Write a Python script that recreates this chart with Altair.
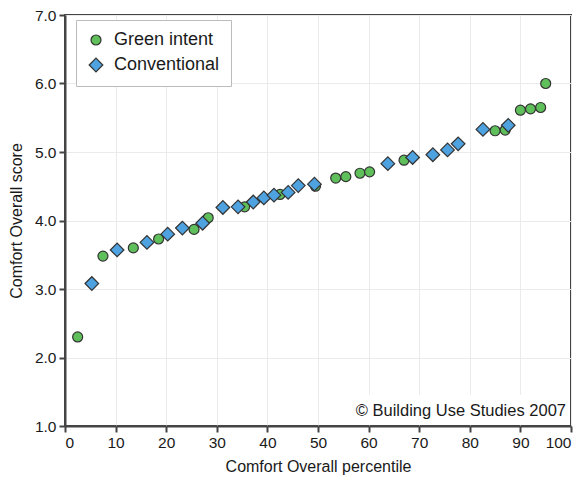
import altair as alt
import pandas as pd

green_x = [2.5, 7.5, 13.5, 18.5, 25.5, 28.3, 35.5, 42.5, 49.5, 53.5, 55.5, 58.3, 60.2, 67.0, 85.0, 87.0, 90.0, 92.0, 94.0, 95.0]
green_y = [2.30, 3.48, 3.60, 3.73, 3.87, 4.04, 4.20, 4.38, 4.50, 4.62, 4.64, 4.69, 4.71, 4.88, 5.31, 5.32, 5.61, 5.63, 5.65, 6.00]

conv_x = [5.3, 10.3, 16.2, 20.3, 23.2, 27.2, 31.2, 34.2, 37.2, 39.3, 41.3, 44.1, 46.1, 49.3, 63.8, 68.7, 72.7, 75.6, 77.7, 82.6, 87.6]
conv_y = [3.08, 3.57, 3.68, 3.80, 3.89, 3.96, 4.19, 4.20, 4.27, 4.33, 4.37, 4.41, 4.51, 4.53, 4.83, 4.92, 4.96, 5.03, 5.12, 5.33, 5.39]

groups = ["Green intent", "Conventional"]
x_ticks = list(range(0, 101, 10))
y_ticks = [1.0, 2.0, 3.0, 4.0, 5.0, 6.0, 7.0]
credit = "© Building Use Studies 2007"

df = pd.concat([
    pd.DataFrame({"x": green_x, "y": green_y, "group": groups[0], "order": 0}),
    pd.DataFrame({"x": conv_x, "y": conv_y, "group": groups[1], "order": 1}),
])

FONT = "Liberation Sans"
TXT = "#1a1a1a"

pts = alt.Chart(df).mark_point(filled=True, stroke="#333333", strokeWidth=1.2, opacity=1).encode(
    x=alt.X("x:Q", scale=alt.Scale(domain=[0, 100], nice=False),
            axis=alt.Axis(values=x_ticks, title="Comfort Overall percentile", format="d")),
    y=alt.Y("y:Q", scale=alt.Scale(domain=[1, 7], nice=False),
            axis=alt.Axis(values=y_ticks, title="Comfort Overall score", format=".1f")),
    color=alt.Color("group:N", scale=alt.Scale(domain=groups, range=["#5fbf5a", "#4ea2e0"]),
                    legend=alt.Legend(title=None, orient="none", legendX=11, legendY=5,
                                      strokeColor="#bbbbbb", padding=11, fillColor="white",
                                      labelFontSize=18, labelFont=FONT, labelColor=TXT,
                                      symbolStrokeColor="#333333", symbolStrokeWidth=1.2,
                                      rowPadding=6, labelLimit=200, labelOffset=9)),
    shape=alt.Shape("group:N", scale=alt.Scale(domain=groups, range=["circle", "diamond"]), title=None),
    size=alt.Size("group:N", scale=alt.Scale(domain=groups, range=[100, 185]), title=None),
    order=alt.Order("order:Q"),
)

box = alt.Chart(pd.DataFrame({"t": [credit]})).mark_rect(color="white").encode(
    x=alt.value(282), x2=alt.value(505), y=alt.value(380), y2=alt.value(410)
)
txt = alt.Chart(pd.DataFrame({"t": [credit]})).mark_text(
    align="right", baseline="middle", fontSize=16.5, font=FONT, color=TXT
).encode(x=alt.value(501), y=alt.value(396), text="t:N")

chart = alt.layer(box, pts, txt).properties(
    width=506, height=411,
    autosize=alt.AutoSizeParams(type="none"),
    padding={"left": 57, "top": 7, "right": 5, "bottom": 52},
).configure_view(stroke="#444444", strokeWidth=2).configure_axis(
    grid=True, gridColor="#ebebeb", gridWidth=1, domainColor="#444444", domainWidth=2,
    tickColor="#444444", tickWidth=2, tickSize=6, labelFont=FONT, labelFontSize=15.5,
    labelColor=TXT, titleFont=FONT, titleFontSize=16, titleFontWeight="normal",
    titleColor=TXT, labelPadding=3
).configure_axisY(titlePadding=10).configure_axisX(titlePadding=8)

chart.save("out.html", embed_options={"renderer": "svg", "actions": False})
